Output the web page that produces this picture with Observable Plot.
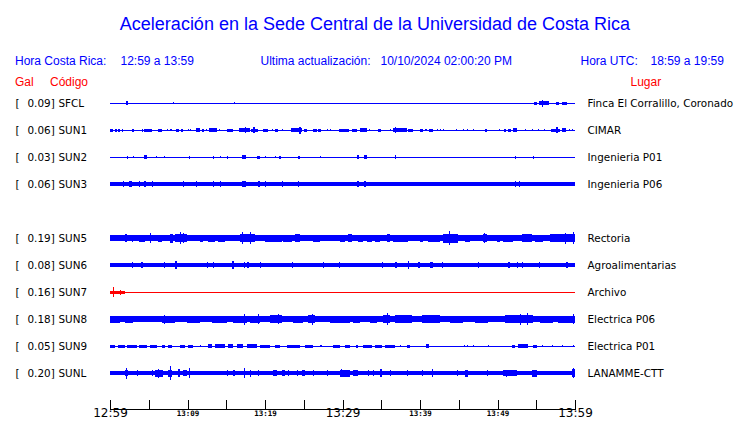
<!DOCTYPE html>
<html><head><meta charset="utf-8">
<script src="https://cdn.jsdelivr.net/npm/d3@7"></script>
<script src="https://cdn.jsdelivr.net/npm/@observablehq/plot@0.6"></script>
<style>
body{margin:0;background:#fff;}
#wrap{width:740px;height:423px;position:relative;overflow:hidden;background:#fff;}
#head{position:relative;width:740px;height:92px;font-family:"Liberation Sans",Arial,sans-serif;}
.t{position:absolute;white-space:pre;line-height:1;font-size:12px;color:#0000ff;}
#chart svg{display:block;}
</style></head>
<body><div id="wrap"><div id="head"></div><div id="chart"></div></div>
<script>
// ---------- data ----------
const title = "Aceleración en la Sede Central de la Universidad de Costa Rica";
const localRange = "12:59 a 13:59";
const utcRange = "18:59 a 19:59";
const updateStamp = "10/10/2024 02:00:20 PM";

const codes  = ["SFCL","SUN1","SUN2","SUN3","SUN5","SUN6","SUN7","SUN8","SUN9","SUNL"];
const slots  = [0, 1, 2, 3, 5, 6, 7, 8, 9, 10];
const gal    = ["0.09","0.06","0.03","0.06","0.19","0.08","0.16","0.18","0.05","0.20"];
const places = ["Finca El Corralillo, Coronado","CIMAR","Ingenieria P01","Ingenieria P06","Rectoria","Agroalimentarias","Archivo","Electrica P06","Electrica P01","LANAMME-CTT"];
const status = ["normal","normal","normal","normal","normal","normal","alarma","normal","normal","normal"];
// background (noise) half-amplitude of each trace
const baseAmp = [0.5, 0.5, 0.5, 2, 3, 2, 0.5, 3, 0.5, 2];

// bursts: [start minute, end minute, half amplitude] (minutes after 12:59)
const burstsSFCL = [[2.06,2.32,2],[8.1,8.25,1.3],[16.0,16.15,1.3],[54.7,55.1,1.5],[55.35,56.6,1.7],[55.7,55.9,3.5],[57.5,57.9,1.5],[58.3,59.0,1.5]];
const burstsSUN1 = [[0,0.4,1.5],[0.65,0.9,1.5],[1.0,1.3,1.5],[1.55,1.7,1.5],[2.85,3.1,1.5],[4.1,4.25,1.5],[4.4,5.4,1.5],[6.2,6.7,1.5],[7.3,7.45,1.2],[7.8,7.95,1.2],[8.5,8.9,1.5],[9.15,9.4,1.5],[10.0,10.15,1.3],[10.3,10.45,1.3],[11.1,11.6,1.8],[11.85,12.1,1.5],[12.4,12.5,1.3],[12.8,13.8,1.8],[14.0,14.15,1.3],[14.4,14.5,1.3],[15.1,15.9,1.5],[16.6,18.05,1.8],[17.4,17.55,3],[18.2,19.1,1.5],[18.5,18.65,3],[19.7,20.4,1.5],[20.9,21.05,1.3],[21.3,21.7,1.5],[22.2,22.35,1.3],[23.35,24.8,2],[24.4,24.6,3.5],[25.0,25.4,1.5],[26.2,26.7,1.5],[26.85,27.2,1.5],[28.0,28.15,1.3],[28.4,28.55,1.3],[29.55,30.85,1.5],[31.2,31.9,1.5],[32.25,33.15,1.8],[33.4,33.55,1.3],[34.6,35.0,1.5],[36.1,36.25,1.3],[36.5,38.3,1.8],[36.75,36.9,3],[38.45,39.1,1.5],[40.0,40.4,1.5],[40.65,40.9,1.3],[41.15,41.7,1.5],[42.2,42.35,1.3],[42.6,42.75,1.3],[43.0,43.15,1.3],[44.6,44.75,1],[45.5,45.65,1.2],[46.0,46.15,1.2],[46.8,46.95,1.3],[48.4,48.65,1.5],[50.2,50.35,1.3],[50.8,51.1,1.5],[51.3,51.7,1.5],[52.0,52.5,1.8],[53.5,53.65,1],[54.45,54.6,1.3],[55.2,55.35,1.3],[56.0,56.15,1],[56.9,57.7,1.5],[57.55,57.75,3],[57.7,58.1,1.5],[58.3,58.8,1.8],[59.2,59.35,1.3],[59.6,59.75,1.3]];
const burstsSUN2 = [[2.15,2.3,1.5],[2.95,3.1,1],[4.4,4.75,1.6],[5.9,6.05,1.2],[6.95,7.1,1],[10.15,10.3,1.5],[13.25,13.4,1.5],[14.15,14.3,1],[15.05,15.2,1.5],[17.0,17.55,1.8],[18.95,19.35,1.5],[20.0,20.15,1],[21.25,21.4,1],[21.8,22.05,1.5],[24.25,24.5,1.5],[27.05,27.2,1],[31.85,32.15,1.6],[32.8,33.15,1.6],[36.75,36.9,1.7],[52.25,52.4,1.5],[54.55,54.7,1.5]];
const burstsSUN3 = [[1.65,1.8,3],[2.45,2.85,2.6],[3.7,3.85,3],[4.45,4.6,3],[5.4,5.55,3],[9.4,9.55,2.6],[11.05,11.2,2.6],[13.25,13.4,3],[14.15,14.3,3],[17.0,17.55,3.2],[19.1,19.35,3.2],[20.0,20.15,3],[22.2,22.35,3],[24.25,24.4,3],[31.85,32.15,3.2],[32.8,33.05,3.2],[52.25,52.4,3],[52.75,52.9,2.8]];
const burstsSUN5 = [[1.9,2.2,4],[2.85,3.0,3.5],[3.75,4.5,3.5],[5.2,5.35,5],[6.2,6.7,3.5],[7.75,8.15,4.5],[8.4,9.95,4],[9.0,9.15,6],[9.4,9.55,5],[11.6,12.0,3.5],[12.65,13.55,3.5],[13.95,14.85,3.5],[16.75,18.7,4],[17.0,17.15,6],[18.0,18.15,6],[20.0,22.2,3.5],[22.3,23.5,3.5],[23.85,24.5,4],[26.2,27.1,3.5],[28.4,28.8,3],[29.7,30.3,3.5],[30.7,31.2,4],[32.0,32.65,3.5],[33.15,33.8,3.5],[34.2,34.85,3.5],[35.75,36.15,4],[36.5,38.45,3.5],[40.0,40.4,3.5],[41.0,42.6,3.5],[42.95,44.9,4.5],[43.7,43.85,7],[45.8,46.45,3.5],[48.1,48.65,4],[48.3,48.45,5],[49.9,50.3,3.5],[50.7,52.0,3.5],[53.15,54.45,4],[54.85,55.85,3.5],[56.8,60,4],[58.7,58.85,5.5],[59.7,59.85,6]];
const burstsSUN6 = [[2.8,2.95,2.8],[4.05,4.2,3.3],[6.95,7.1,2.7],[8.4,8.65,3.8],[12.5,12.65,2.8],[13.25,13.4,2.8],[15.7,16.0,3.8],[17.25,17.4,2.8],[17.65,17.95,3.2],[19.3,19.45,2.8],[23.45,23.6,2.8],[27.45,27.6,2.6],[29.5,29.65,3],[35.05,35.2,3],[36.75,37.05,3],[38.4,38.55,3.8],[39.8,39.95,2.8],[41.25,41.65,2.8],[42.8,42.95,3],[47.5,47.65,2.6],[51.3,51.6,2.8],[52.5,52.7,2.8],[53.1,53.25,3.3],[55.3,55.45,2.6],[58.9,59.05,2.6]];
const burstsSUN7 = [[0,1.95,1.5],[0.35,0.5,5],[1.25,1.4,2.5]];
const burstsSUN8 = [[0,1.3,3.5],[1.95,2.95,3.5],[2.95,4.25,3.3],[6.7,8.4,3.5],[6.95,7.1,4.5],[9.9,11.6,3.5],[13.15,15.1,3.5],[15.9,17.65,3.5],[17.25,17.4,5.5],[18.05,19.35,3.5],[19.05,19.2,5],[20.65,22.2,4],[21.65,21.8,5],[23.6,24.9,3.5],[25.55,26.45,4],[26.05,26.2,5.5],[28.4,29.7,3.5],[29.7,30.95,3.5],[31.35,32.25,3.5],[33.55,34.45,3.5],[35.2,36.1,4],[35.7,35.85,6],[36.75,38.95,4],[40.25,42.6,4],[43.85,45.55,3.5],[47.1,48.8,3.5],[50.95,54.6,4],[52.85,53.0,5.5],[53.75,53.9,6],[55.5,57.15,3.5],[57.8,60,3.5],[59.7,59.85,5]];
const burstsSUN9 = [[0,0.65,1.5],[1.0,1.95,1.5],[2.2,3.5,1.5],[3.75,4.75,1.5],[5.15,6.05,1.5],[6.7,7.1,1.5],[7.5,8.0,1.5],[9.05,9.7,1.5],[10.05,10.7,1.5],[11.6,11.75,1.3],[12.65,13.15,1.7],[13.55,14.85,1.7],[15.2,15.9,1.7],[16.4,17.2,1.7],[17.7,19.0,1.7],[19.35,20.65,1.5],[21.3,21.95,1.5],[22.85,24.5,1.5],[25.15,26.2,1.5],[27.1,27.35,1.3],[28.8,29.7,1.5],[30.3,30.95,1.5],[31.75,32.0,1.5],[32.65,33.8,1.5],[34.2,35.1,1.5],[35.5,36.8,1.5],[37.4,37.55,1.3],[38.3,38.7,1.5],[40.8,41.15,1.7],[45.65,45.8,1.3],[46.05,46.2,1.3],[46.85,47.0,1.3],[48.75,48.9,1.3],[51.85,52.25,1.5],[52.65,53.95,1.7],[54.6,55.1,1.5],[55.75,55.9,1.3],[57.0,57.15,1.3],[58.3,58.45,1.3],[59.7,59.85,1.3]];
const burstsSUNL = [[1.95,2.35,3],[2.1,2.25,5.5],[3.45,3.6,2.8],[5.4,5.55,3],[5.8,6.85,3.5],[6.2,6.35,4.5],[7.5,8.0,3.5],[7.7,7.85,7],[8.75,9.05,4],[9.4,9.95,3],[10.15,10.3,5],[15.05,15.2,3],[15.9,16.15,3],[17.25,17.4,5],[18.0,18.15,3.5],[19.1,19.25,2.8],[21.05,21.55,3],[22.2,22.6,3],[23.0,23.15,3],[24.1,24.25,2.8],[24.75,25.15,2.8],[26.2,26.35,2.8],[28.0,28.15,2.8],[29.7,30.95,3.5],[29.8,29.95,4],[31.35,32.0,2.8],[33.25,33.4,3],[33.9,34.05,2.8],[34.85,35.1,4],[36.1,36.25,3],[38.3,38.45,3],[40.25,40.4,3],[41.55,41.7,4],[44.75,44.9,2.8],[45.8,46.2,3.5],[48.65,48.8,2.8],[50.7,52.5,3],[51.05,51.2,3.5],[54.45,55.1,3.5],[59.6,60,4],[59.75,59.9,5]];
const bursts = [burstsSFCL,burstsSUN1,burstsSUN2,burstsSUN3,burstsSUN5,burstsSUN6,burstsSUN7,burstsSUN8,burstsSUN9,burstsSUNL];

const tickMinutes = [0,5,10,15,20,25,30,35,40,45,50,55,60];
const tickLabels  = ["12:59","","13:09","","13:19","","13:29","","13:39","","13:49","","13:59"];
const majorLabels = ["12:59","13:29","13:59"];

// ---------- header ----------
const head = document.getElementById("head");
function put(text, left, top, opts = {}) {
  const d = document.createElement("div");
  d.className = "t";
  d.textContent = text;
  d.style.left = left + "px";
  d.style.top = top + "px";
  Object.assign(d.style, opts);
  head.appendChild(d);
  return d;
}
put(title, 0, 14.8, {width: "750px", textAlign: "center", fontSize: "18px"});
put("Hora Costa Rica:", 15, 54.8);
put(localRange, 120.5, 54.8);
put("Ultima actualización:", 260.5, 54.8);
put(updateStamp, 380.5, 54.8);
put("Hora UTC:", 580.5, 54.8);
put(utcRange, 650.5, 54.8);
put("Gal", 15, 75.5, {color: "#ff0000"});
put("Código", 50, 75.5, {color: "#ff0000"});
put("Lugar", 630.5, 75.5, {color: "#ff0000"});

// ---------- chart ----------
const ROW = 27; // display units between station rows
const stations = codes.map((c, i) => ({code: c, slot: slots[i], gal: gal[i], place: places[i], status: status[i]}));
const segs = [];
stations.forEach((s, i) => {
  segs.push({slot: s.slot, status: s.status, t0: 0, t1: 60, a: baseAmp[i]});
  bursts[i].forEach(([t0, t1, a]) => segs.push({slot: s.slot, status: s.status, t0, t1, a}));
});
const ticks = tickMinutes.map((m, i) => ({m, label: tickLabels[i]}));

const chart = Plot.plot({
  width: 740, height: 331,
  marginLeft: 110, marginRight: 165, marginTop: 0, marginBottom: 14,
  x: {domain: [0, 60], axis: null},
  y: {domain: [0, 10 * ROW], range: [11, 281], axis: null},
  color: {domain: ["normal", "alarma"], range: ["#0000ff", "#ff0000"]},
  style: {fontFamily: "'DejaVu Sans', sans-serif", fontSize: "10.4px", color: "#000", background: "#fff", overflow: "visible"},
  marks: [
    Plot.rect(segs, {x1: "t0", x2: "t1", y1: d => d.slot * ROW - d.a, y2: d => d.slot * ROW + d.a, fill: "status", shapeRendering: "crispEdges"}),
    Plot.frame({anchor: "bottom", stroke: "#000"}),
    Plot.ruleX(tickMinutes, {x: d => d, insetTop: 308, stroke: "#000", shapeRendering: "crispEdges"}),
    Plot.text(ticks.filter(d => majorLabels.includes(d.label)), {x: "m", text: "label", frameAnchor: "bottom", dy: 7, fontSize: 12, fill: "#000", style: "letter-spacing:0.6px"}),
    Plot.text(ticks.filter(d => d.label && !majorLabels.includes(d.label)), {x: "m", text: "label", frameAnchor: "bottom", dy: 6, fontSize: 7.5, fontFamily: "'DejaVu Sans Mono', monospace", fontWeight: "bold", fill: "#000"}),
    Plot.text(stations, {y: d => d.slot * ROW, text: () => "[", frameAnchor: "left", textAnchor: "start", dx: -95, fill: "#000"}),
    Plot.text(stations, {y: d => d.slot * ROW, text: d => d.gal + "]", frameAnchor: "left", textAnchor: "start", dx: -83, fill: "#000"}),
    Plot.text(stations, {y: d => d.slot * ROW, text: "code", frameAnchor: "left", textAnchor: "start", dx: -52, fill: "#000"}),
    Plot.text(stations, {y: d => d.slot * ROW, text: "place", frameAnchor: "right", textAnchor: "start", dx: 12, fill: "#000"})
  ]
});
document.getElementById("chart").appendChild(chart);
</script>
</body></html>
